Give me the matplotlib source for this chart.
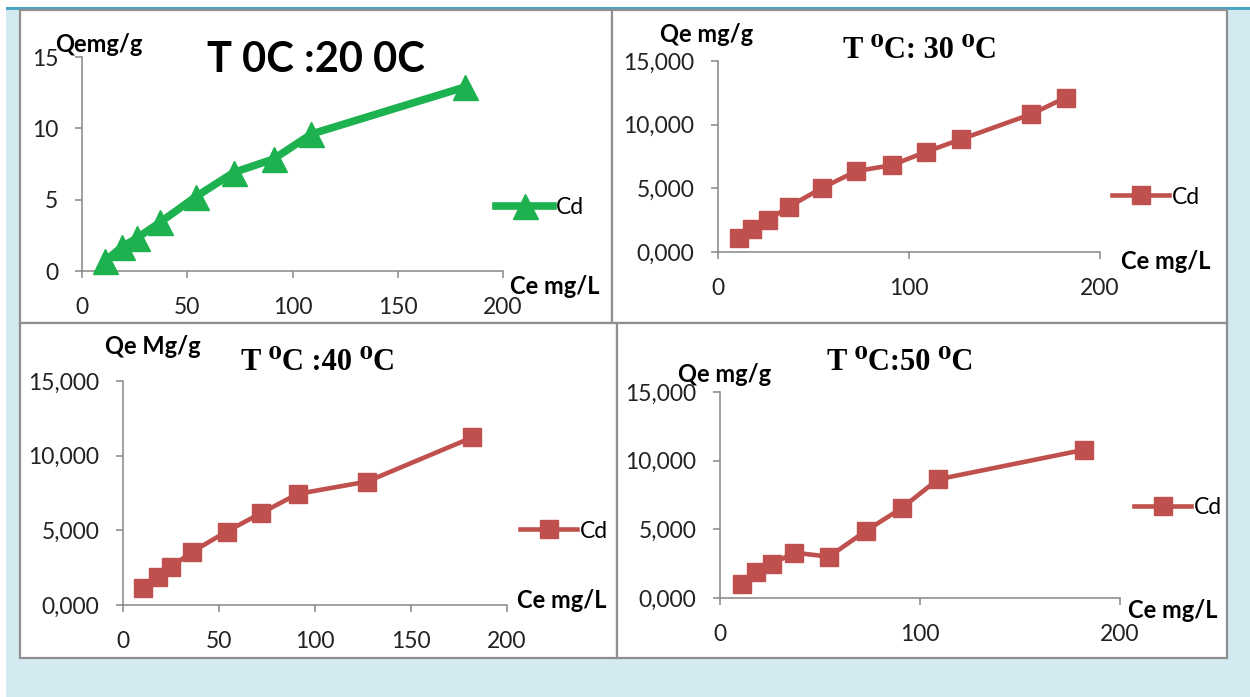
import matplotlib
matplotlib.use('Agg')
import matplotlib.pyplot as plt
from matplotlib.patches import Rectangle

W, H = 1250, 697

# values
ce_20 = [11, 19, 26, 37, 54, 72, 91, 109, 182]
qe_20 = [0.7, 1.7, 2.3, 3.4, 5.2, 6.9, 7.85, 9.6, 12.9]

ce_30 = [11, 18, 26, 37, 54.5, 72.5, 91, 109, 127, 164, 182]
qe_30 = [1.1, 1.84, 2.49, 3.54, 5.04, 6.35, 6.82, 7.87, 8.84, 10.83, 12.12]

ce_40 = [10.5, 18, 25, 36, 54, 72, 91, 127, 182]
qe_40 = [1.15, 1.87, 2.55, 3.56, 4.92, 6.16, 7.44, 8.26, 11.23]

ce_50 = [11, 18, 26, 37, 54.5, 73, 91, 109, 182]
qe_50 = [1.05, 1.86, 2.47, 3.30, 3.01, 4.89, 6.56, 8.64, 10.79]

y_ticks = [0, 5, 10, 15]
y_labels_20 = ['0', '5', '10', '15']
y_labels = ['0,000', '5,000', '10,000', '15,000']
x_ticks_50 = [0, 50, 100, 150, 200]
x_ticks_100 = [0, 100, 200]

GREEN = '#1db24f'
RED = '#c0504d'
GRAY = '#868686'
SANS = ['Lato', 'DejaVu Sans']
SERIF = ['Liberation Serif', 'DejaVu Serif']


def fx(x):
    return x / W


def fy(y):
    return 1 - y / H


fig = plt.figure(figsize=(W / 100, H / 100), dpi=100)
fig.patch.set_facecolor('white')

# page background, top rule and the four white boxes
fig.patches.append(Rectangle((fx(6), fy(H)), fx(W - 6), (H - 9) / H,
                             transform=fig.transFigure, facecolor='#d3eaf1', edgecolor='none', zorder=-3))
fig.patches.append(Rectangle((fx(6), fy(9.5)), fx(W - 6), 3 / H,
                             transform=fig.transFigure, facecolor='#4ba5c3', edgecolor='none', zorder=-3))
for (x0, y0, x1, y1) in [(20, 10, 612, 323), (612, 10, 1227, 323),
                         (20, 323, 617, 658), (617, 323, 1227, 658)]:
    fig.patches.append(Rectangle((fx(x0), fy(y1)), fx(x1 - x0), (y1 - y0) / H,
                                 transform=fig.transFigure, facecolor='white',
                                 edgecolor='#8f8f8f', linewidth=1.6, zorder=-2))


def panel(area, ce, qe, xticks, ylabels, color, marker, ms, lw,
          title, title_pos, title_font, title_size, ylab, ylab_pos, xlab_pos, leg_pos):
    left, right, top, bottom = area
    ax = fig.add_axes([fx(left), fy(bottom), fx(right - left), (bottom - top) / H])
    ax.set_zorder(1)
    ax.patch.set_alpha(0)
    ax.plot(ce, qe, color=color, lw=lw, marker=marker, ms=ms,
            markeredgecolor=color, clip_on=False, label='Cd', zorder=3)
    ax.set_xlim(0, 200)
    ax.set_ylim(0, 15)
    ax.set_xticks(xticks)
    ax.set_yticks(y_ticks)
    ax.set_yticklabels(ylabels)
    for s in ['top', 'right']:
        ax.spines[s].set_visible(False)
    for s in ['left', 'bottom']:
        ax.spines[s].set_color(GRAY)
        ax.spines[s].set_linewidth(1.1)
    ax.tick_params(axis='x', direction='out', length=5, width=1.1, color=GRAY,
                   pad=14, labelsize=16.5, labelcolor='#222222')
    ax.tick_params(axis='y', direction='out', length=5, width=1.1, color=GRAY,
                   pad=12, labelsize=16.5, labelcolor='#222222')
    for t in ax.get_xticklabels() + ax.get_yticklabels():
        t.set_family(SANS)
    fig.text(fx(title_pos[0]), fy(title_pos[1]), title, family=title_font,
             fontsize=title_size, fontweight='bold', ha='center', va='center', zorder=2)
    fig.text(fx(ylab_pos[0]), fy(ylab_pos[1]), ylab, family=SANS,
             fontsize=17, fontweight='bold', ha='center', va='center', zorder=2)
    fig.text(fx(xlab_pos[0]), fy(xlab_pos[1]), 'Ce mg/L', family=SANS,
             fontsize=17, fontweight='bold', ha='center', va='center', zorder=2)
    ax.legend(loc='center left', bbox_to_anchor=(fx(leg_pos[0]), fy(leg_pos[1])),
              bbox_transform=fig.transFigure, frameon=False, borderpad=0,
              borderaxespad=0, handlelength=2.5, handletextpad=0.12,
              prop={'family': SANS, 'size': 16.5})
    return ax


panel((82, 503, 57, 271), ce_20, qe_20, x_ticks_50, y_labels_20, GREEN, '^', 18, 5.5,
      'T 0C :20 0C', (316, 60), SANS, 30, 'Qemg/g', (99, 45), (555, 287), (496, 208))
panel((718, 1100, 61, 252), ce_30, qe_30, x_ticks_100, y_labels, RED, 's', 13.5, 3.3,
      'T \u2070C: 30 \u2070C', (920, 50), SERIF, 22, 'Qe mg/g', (707, 35), (1166, 261), (1112, 197))
panel((123, 507, 381, 605), ce_40, qe_40, x_ticks_50, y_labels, RED, 's', 13.5, 3.3,
      'T \u2070C :40 \u2070C', (318, 363), SERIF, 22, 'Qe Mg/g', (153, 347), (562, 600), (520, 531))
panel((720, 1120, 392, 598), ce_50, qe_50, x_ticks_100, y_labels, RED, 's', 13.5, 3.3,
      'T \u2070C:50 \u2070C', (900, 363), SERIF, 22, 'Qe mg/g', (725, 374), (1173, 610), (1134, 508))

fig.savefig('out.png', dpi=100)
